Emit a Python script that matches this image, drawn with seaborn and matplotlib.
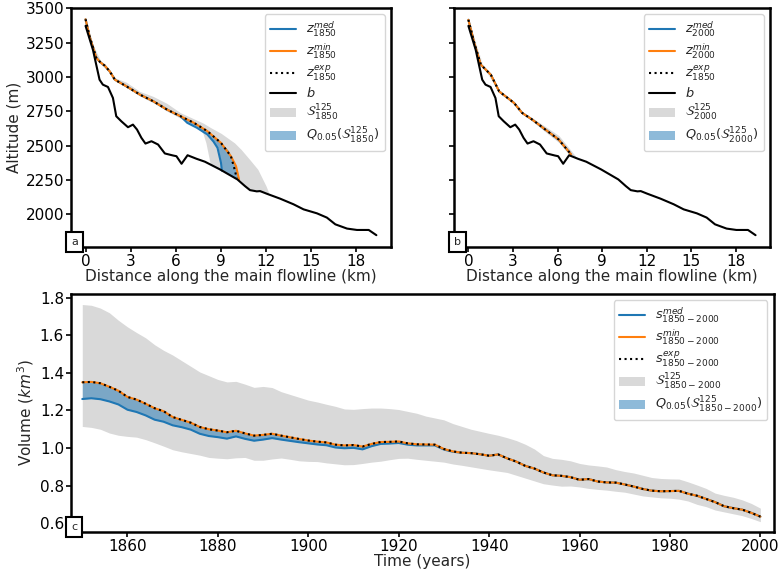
import numpy as np
import pandas as pd
import matplotlib
matplotlib.use("Agg")
import matplotlib.pyplot as plt
from matplotlib.patches import Patch
import seaborn as sns

# ---------------- data: panels a / b (flowline profiles) ----------------
bed_x = [0.0, 0.49, 0.93, 1.15, 1.49, 1.82, 2.04, 2.38, 2.82, 3.15, 3.42, 3.71, 3.98, 4.38,
         4.82, 5.27, 5.82, 6.04, 6.38, 6.78, 7.38, 7.93, 8.93, 10.09, 10.6, 10.93, 11.38,
         11.6, 12.04, 12.93, 13.82, 14.49, 15.38, 16.04, 16.6, 17.38, 18.04, 18.82, 19.33]
bed_z = [3372, 3198, 2980, 2944, 2927, 2847, 2714, 2677, 2634, 2653, 2617, 2557, 2515, 2532,
         2508, 2443, 2428, 2423, 2368, 2430, 2404, 2383, 2327, 2254, 2205, 2176, 2167,
         2169, 2150, 2114, 2073, 2036, 2007, 1976, 1927, 1896, 1886, 1886, 1848]

# 1850 surfaces
s1850_x = [0.0, 0.27, 0.72, 1.0, 1.28, 1.61, 1.95, 2.73, 3.62, 4.52, 5.42, 6.31, 7.2, 8.1,
           9.0, 9.66, 10.0, 10.2]
z_min_1850 = [3420, 3294, 3138, 3105, 3082, 3040, 2980, 2931, 2871, 2822, 2762, 2714, 2666,
              2605, 2520, 2423, 2351, 2254]
exp1850_x = [0.0, 0.27, 0.72, 1.0, 1.28, 1.61, 1.95, 2.73, 3.62, 4.52, 5.42, 6.31, 7.2, 8.1,
             9.0, 9.66, 9.9, 10.05]
z_exp_1850 = [3420, 3294, 3138, 3105, 3082, 3040, 2980, 2931, 2871, 2822, 2762, 2714, 2666,
              2605, 2520, 2423, 2330, 2262]
med1850_x = [0.0, 0.27, 0.72, 1.0, 1.28, 1.61, 1.95, 2.73, 3.62, 4.52, 5.42, 6.31, 6.76,
             7.4, 8.1, 8.5, 8.77, 9.0, 9.06]
z_med_1850 = [3420, 3294, 3138, 3105, 3082, 3040, 2980, 2931, 2871, 2822, 2762, 2714, 2666,
              2630, 2581, 2530, 2484, 2375, 2318]

# S^125_1850 envelope
band1850_x = [0.0, 0.5, 1.0, 1.5, 2.0, 2.7, 3.6, 4.5, 5.4, 6.3, 7.0, 7.5, 7.8, 8.0, 8.15,
              8.3, 9.0, 9.9, 10.34, 10.9, 11.45, 12.0, 12.17]
band1850_up = [3426, 3232, 3118, 3062, 2992, 2962, 2895, 2858, 2808, 2740, 2705, 2680, 2665,
               2652, 2642, 2632, 2590, 2520, 2472, 2400, 2327, 2205, 2158]
band1850_lo = [3415, 3205, 3095, 3040, 2970, 2925, 2862, 2812, 2752, 2700, 2665, 2635, 2590,
               2520, 2440, 2360, 2325, 2265, 2240, 2178, 2168, 2155, 2150]

# Q_0.05 envelope 1850
q1850_x = [6.3, 6.8, 7.2, 7.6, 8.1, 8.5, 8.8, 9.0, 9.06, 9.5, 10.0, 10.2]
q1850_up = [2714, 2690, 2666, 2640, 2605, 2570, 2535, 2520, 2515, 2465, 2351, 2254]
q1850_lo = [2714, 2666, 2645, 2615, 2581, 2530, 2484, 2375, 2318, 2290, 2262, 2254]

# 2000 surfaces
s2000_x = [0.0, 0.4, 0.84, 1.51, 2.07, 3.07, 3.62, 4.29, 5.18, 6.07, 6.73, 6.91]
z_min_2000 = [3416, 3247, 3089, 3016, 2895, 2811, 2738, 2690, 2617, 2545, 2460, 2436]
z_med_2000 = [3416, 3247, 3089, 3016, 2895, 2811, 2738, 2690, 2617, 2545, 2460, 2436]
z_exp_2000 = [3416, 3247, 3089, 3016, 2895, 2811, 2738, 2690, 2617, 2545, 2460, 2436]

band2000_x = [0.0, 1.0, 2.0, 3.0, 3.6, 4.3, 5.2, 6.1, 6.7, 7.0, 7.3]
band2000_up = [3418, 3078, 2908, 2820, 2746, 2702, 2638, 2572, 2492, 2452, 2412]
band2000_lo = [3414, 3072, 2902, 2812, 2734, 2678, 2598, 2522, 2443, 2425, 2410]

# ---------------- data: panel c (volume) ----------------
years = list(range(1850, 2001, 2))
v_min = [1.350, 1.352, 1.345, 1.326, 1.305, 1.272, 1.258, 1.236, 1.212, 1.196, 1.165, 1.150,
         1.135, 1.112, 1.100, 1.093, 1.084, 1.092, 1.078, 1.066, 1.070, 1.076, 1.066, 1.057,
         1.048, 1.040, 1.034, 1.030, 1.018, 1.014, 1.016, 1.008, 1.022, 1.032, 1.033, 1.035,
         1.025, 1.020, 1.019, 1.018, 0.995, 0.982, 0.975, 0.973, 0.967, 0.959, 0.966, 0.945,
         0.928, 0.905, 0.891, 0.870, 0.855, 0.852, 0.845, 0.831, 0.835, 0.822, 0.817, 0.816,
         0.806, 0.795, 0.782, 0.773, 0.770, 0.771, 0.772, 0.757, 0.746, 0.729, 0.712, 0.690,
         0.680, 0.672, 0.655, 0.635]
v_exp = list(v_min)
v_med = [1.261, 1.265, 1.260, 1.248, 1.232, 1.204, 1.192, 1.174, 1.151, 1.140, 1.121, 1.111,
         1.098, 1.076, 1.064, 1.058, 1.050, 1.062, 1.049, 1.039, 1.045, 1.053, 1.045, 1.038,
         1.031, 1.025, 1.019, 1.015, 1.003, 0.999, 1.001, 0.993, 1.010, 1.022, 1.024, 1.027,
         1.018, 1.014, 1.014, 1.014, 0.992, 0.980, 0.975, 0.973, 0.967, 0.959, 0.966, 0.945,
         0.928, 0.905, 0.891, 0.870, 0.855, 0.852, 0.845, 0.831, 0.835, 0.822, 0.817, 0.816,
         0.806, 0.795, 0.782, 0.773, 0.770, 0.771, 0.772, 0.757, 0.746, 0.729, 0.712, 0.690,
         0.680, 0.672, 0.655, 0.635]
v_band_up = [1.764, 1.760, 1.745, 1.720, 1.680, 1.645, 1.615, 1.587, 1.550, 1.520, 1.495, 1.465,
             1.435, 1.405, 1.385, 1.365, 1.352, 1.355, 1.340, 1.323, 1.328, 1.322, 1.300, 1.285,
             1.270, 1.255, 1.245, 1.233, 1.222, 1.208, 1.206, 1.210, 1.213, 1.213, 1.210, 1.205,
             1.195, 1.185, 1.170, 1.160, 1.150, 1.130, 1.115, 1.100, 1.089, 1.078, 1.068, 1.055,
             1.040, 1.020, 0.995, 0.960, 0.945, 0.940, 0.932, 0.918, 0.910, 0.905, 0.899, 0.885,
             0.875, 0.867, 0.855, 0.843, 0.838, 0.836, 0.835, 0.820, 0.803, 0.785, 0.760, 0.748,
             0.738, 0.724, 0.705, 0.680]
v_band_lo = [1.115, 1.110, 1.100, 1.080, 1.068, 1.062, 1.058, 1.045, 1.028, 1.010, 0.991, 0.980,
             0.971, 0.962, 0.950, 0.946, 0.943, 0.948, 0.950, 0.935, 0.935, 0.942, 0.947, 0.940,
             0.932, 0.929, 0.928, 0.921, 0.916, 0.911, 0.912, 0.918, 0.925, 0.930, 0.938, 0.945,
             0.946, 0.940, 0.935, 0.930, 0.925, 0.915, 0.908, 0.900, 0.892, 0.884, 0.877, 0.870,
             0.855, 0.840, 0.825, 0.810, 0.803, 0.797, 0.798, 0.793, 0.785, 0.780, 0.776, 0.770,
             0.765, 0.755, 0.745, 0.740, 0.735, 0.733, 0.728, 0.718, 0.700, 0.688, 0.670, 0.660,
             0.650, 0.640, 0.625, 0.608]

# ---------------- styling ----------------
sns.set_style("ticks")
plt.rcParams["font.family"] = ["DejaVu Sans"]
plt.rcParams["mathtext.fontset"] = "dejavusans"

BLUE = "#1f77b4"
ORANGE = "#ff7f0e"
GREY = "#d9d9d9"
LW = 1.5
FS_TICK = 11
FS_LAB = 11
FS_LEG = 9.3
LEG_KW = dict(loc="upper right", fontsize=FS_LEG, labelspacing=0.22, borderpad=0.4,
              handletextpad=0.8)

fig = plt.figure(figsize=(7.79, 5.72), dpi=100)
ax_a = fig.add_axes([0.0911, 0.5682, 0.4108, 0.4178])
ax_b = fig.add_axes([0.5828, 0.5682, 0.4056, 0.4178], sharey=ax_a)
ax_c = fig.add_axes([0.0911, 0.0699, 0.9024, 0.4161])


def line(ax, x, y, **kw):
    sns.lineplot(x=x, y=y, ax=ax, sort=False, estimator=None, legend=False, **kw)
    return ax.lines[-1]


def style_axes(ax, letter):
    for s in ax.spines.values():
        s.set_linewidth(1.8)
        s.set_color("black")
    ax.tick_params(direction="out", length=3.5, width=1.2, pad=1.5, labelsize=FS_TICK,
                   colors="black")
    ax.text(0.0, 0.0, letter, transform=ax.transAxes, ha="left", va="bottom", fontsize=8,
            bbox=dict(boxstyle="square,pad=0.42", fc="white", ec="black", lw=1.5), zorder=10)


def profile_panel(ax, year, band_x, band_up, band_lo, q_x, q_up, q_lo,
                  med_x, z_med, min_x, z_min, exp_x, z_exp):
    ax.fill_between(band_x, band_lo, band_up, color=GREY, lw=0, zorder=1)
    ax.fill_between(q_x, q_lo, q_up, color=BLUE, alpha=0.5, lw=0, zorder=2)
    h_med = line(ax, med_x, z_med, color=BLUE, lw=LW, zorder=3)
    h_min = line(ax, min_x, z_min, color=ORANGE, lw=LW, zorder=4)
    h_exp = line(ax, exp_x, z_exp, color="black", lw=LW, zorder=5)
    h_exp.set_linestyle(":")
    h_bed = line(ax, bed_x, bed_z, color="black", lw=LW, zorder=6)
    handles = [h_med, h_min, h_exp, h_bed,
               Patch(facecolor=GREY, edgecolor="none"),
               Patch(facecolor=BLUE, alpha=0.5, edgecolor="none")]
    labels = [rf"$z_{{{year}}}^{{med}}$", rf"$z_{{{year}}}^{{min}}$", r"$z_{1850}^{exp}$",
              r"$b$", rf"$\mathcal{{S}}_{{{year}}}^{{125}}$",
              rf"$Q_{{0.05}}(\mathcal{{S}}_{{{year}}}^{{125}})$"]
    ax.legend(handles, labels, **LEG_KW)
    ax.set_xticks(range(0, 19, 3))
    ax.set_xlim(-0.97, 20.3)
    ax.set_xlabel("Distance along the main flowline (km)", fontsize=FS_LAB, labelpad=0)


profile_panel(ax_a, 1850, band1850_x, band1850_up, band1850_lo, q1850_x, q1850_up, q1850_lo,
              med1850_x, z_med_1850, s1850_x, z_min_1850, exp1850_x, z_exp_1850)
profile_panel(ax_b, 2000, band2000_x, band2000_up, band2000_lo, s2000_x, z_min_2000, z_med_2000,
              s2000_x, z_med_2000, s2000_x, z_min_2000, s2000_x, z_exp_2000)

ax_a.set_yticks(range(2000, 3501, 250))
ax_a.set_ylim(1762, 3502)
ax_a.set_ylabel("Altitude (m)", fontsize=FS_LAB, labelpad=3)
ax_b.set_ylabel("")
style_axes(ax_a, "a")
style_axes(ax_b, "b")
ax_b.tick_params(labelleft=False)

# panel c
ax_c.fill_between(years, v_band_lo, v_band_up, color=GREY, lw=0, zorder=1)
ax_c.fill_between(years, v_med, v_min, color=BLUE, alpha=0.5, lw=0, zorder=2)
hc_med = line(ax_c, years, v_med, color=BLUE, lw=LW, zorder=3)
hc_min = line(ax_c, years, v_min, color=ORANGE, lw=LW, zorder=4)
hc_exp = line(ax_c, years, v_exp, color="black", lw=LW, zorder=5)
hc_exp.set_linestyle(":")
ax_c.legend([hc_med, hc_min, hc_exp, Patch(facecolor=GREY, edgecolor="none"),
             Patch(facecolor=BLUE, alpha=0.5, edgecolor="none")],
            [r"$s_{1850-2000}^{med}$", r"$s_{1850-2000}^{min}$", r"$s_{1850-2000}^{exp}$",
             r"$\mathcal{S}_{1850-2000}^{125}$", r"$Q_{0.05}(\mathcal{S}_{1850-2000}^{125})$"],
            **LEG_KW)
ax_c.set_xticks(range(1860, 2001, 20))
ax_c.set_yticks(np.arange(0.6, 1.81, 0.2))
ax_c.yaxis.set_major_formatter(matplotlib.ticker.FormatStrFormatter("%.1f"))
ax_c.set_xlim(1847.5, 2003)
ax_c.set_ylim(0.553, 1.82)
ax_c.set_xlabel("Time (years)", fontsize=FS_LAB, labelpad=0)
ax_c.set_ylabel(r"Volume ($km^3$)", fontsize=FS_LAB, labelpad=3)
style_axes(ax_c, "c")

fig.savefig("out.png", dpi=100)
